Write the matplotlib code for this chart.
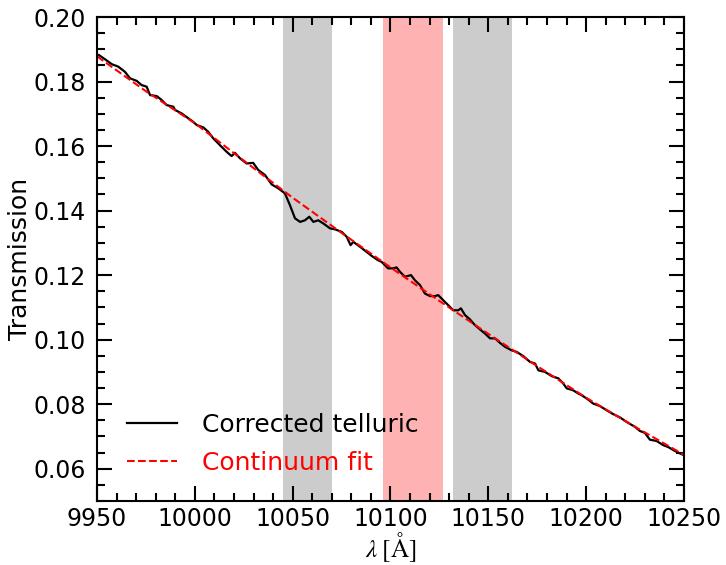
import matplotlib
matplotlib.use("Agg")
import matplotlib.pyplot as plt
from matplotlib.ticker import MultipleLocator

# Corrected telluric (black line)
wave = [9951.0, 9954.1, 9957.5, 9960.9, 9964.3, 9966.9, 9970.3, 9972.8, 9975.4, 9977.1,
        9980.5, 9983.0, 9985.6, 9989.0, 9989.9, 9993.3, 9996.7, 9999.2, 10001.0, 10004.3,
        10006.9, 10009.4, 10012.8, 10016.3, 10018.8, 10020.5, 10023.1, 10026.5, 10029.8, 10032.4,
        10035.9, 10039.3, 10042.7, 10046.1, 10048.6, 10051.2, 10053.8, 10056.3, 10058.5, 10060.6,
        10063.1, 10065.7, 10069.1, 10071.6, 10075.1, 10077.6, 10079.6, 10081.0, 10084.4, 10087.8,
        10090.3, 10093.7, 10095.5, 10098.8, 10101.4, 10103.1, 10104.9, 10107.4, 10110.5, 10112.5,
        10115.1, 10117.6, 10120.2, 10122.7, 10124.4, 10127.0, 10129.5, 10132.1, 10134.6, 10136.0,
        10138.1, 10140.6, 10143.0, 10145.7, 10148.3, 10150.9, 10153.4, 10156.0, 10158.5, 10161.9,
        10164.5, 10167.9, 10171.3, 10173.9, 10175.6, 10179.0, 10182.4, 10185.8, 10188.3, 10190.1,
        10193.4, 10196.0, 10197.7, 10201.1, 10203.6, 10207.1, 10210.5, 10213.9, 10217.3, 10220.7,
        10224.9, 10227.5, 10230.0, 10232.6, 10236.0, 10239.4, 10242.0, 10245.4, 10248.8, 10250.0]
trans = [0.1882, 0.1869, 0.1854, 0.1846, 0.1830, 0.1810, 0.1802, 0.1789, 0.1784, 0.1758,
         0.1755, 0.1743, 0.1727, 0.1722, 0.1712, 0.1701, 0.1686, 0.1675, 0.1665, 0.1658,
         0.1644, 0.1624, 0.1603, 0.1582, 0.1569, 0.1579, 0.1562, 0.1546, 0.1548, 0.1526,
         0.1510, 0.1481, 0.1469, 0.1453, 0.1417, 0.1376, 0.1365, 0.1370, 0.1381, 0.1365,
         0.1370, 0.1360, 0.1345, 0.1342, 0.1334, 0.1319, 0.1293, 0.1303, 0.1288, 0.1272,
         0.1260, 0.1246, 0.1241, 0.1221, 0.1221, 0.1224, 0.1210, 0.1195, 0.1200, 0.1184,
         0.1169, 0.1143, 0.1135, 0.1135, 0.1138, 0.1122, 0.1107, 0.1091, 0.1091, 0.1097,
         0.1076, 0.1063, 0.1046, 0.1032, 0.1019, 0.1004, 0.1004, 0.0990, 0.0978, 0.0967,
         0.0962, 0.0949, 0.0931, 0.0926, 0.0905, 0.0900, 0.0887, 0.0880, 0.0864, 0.0849,
         0.0843, 0.0833, 0.0828, 0.0814, 0.0802, 0.0794, 0.0781, 0.0769, 0.0759, 0.0745,
         0.0730, 0.0717, 0.0711, 0.0690, 0.0686, 0.0673, 0.0667, 0.0655, 0.0645, 0.0642]

# Continuum fit (red dashed)
fit_wave = [9950, 9975, 10000, 10025, 10050, 10075, 10100, 10125, 10150, 10175, 10200, 10225, 10250]
fit_trans = [0.1878, 0.1770, 0.1671, 0.1555, 0.1440, 0.1331, 0.1224, 0.1120, 0.1018, 0.0918, 0.0820, 0.0730, 0.0643]

# Shaded regions
gray_regions = [(10045, 10070), (10132, 10162)]
red_regions = [(10096, 10127)]

labels = ["Corrected telluric", "Continuum fit"]

fig = plt.figure(figsize=(7.26, 5.65), dpi=100)
ax = fig.add_axes([0.1336, 0.1133, 0.8085, 0.8566])

for a, b in gray_regions:
    ax.axvspan(a, b, color="k", alpha=0.2, lw=0)
for a, b in red_regions:
    ax.axvspan(a, b, color="red", alpha=0.3, lw=0)

ax.plot(wave, trans, color="black", lw=1.6, label=labels[0])
ax.plot(fit_wave, fit_trans, color="red", lw=1.5, ls="--", label=labels[1])

ax.set_xlim(9950, 10250)
ax.set_ylim(0.05, 0.20)
ax.xaxis.set_major_locator(MultipleLocator(50))
ax.xaxis.set_minor_locator(MultipleLocator(10))
ax.yaxis.set_major_locator(MultipleLocator(0.02))
ax.yaxis.set_minor_locator(MultipleLocator(0.005))
ax.yaxis.set_major_formatter(plt.FormatStrFormatter("%.2f"))
ax.tick_params(which="both", direction="in", top=True, right=True, labelsize=17)
ax.tick_params(axis="x", pad=4)
ax.tick_params(axis="y", pad=8)
ax.tick_params(which="major", length=11, width=1.5)
ax.tick_params(which="minor", length=5.5, width=1.5)
for s in ax.spines.values():
    s.set_linewidth(1.5)

ax.set_ylabel("Transmission", fontsize=18, labelpad=1)
ax.set_xlabel(r"$\lambda\;[\mathrm{\AA}]$", fontsize=18, math_fontfamily="stix", labelpad=0)

leg = ax.legend(loc="lower left", frameon=False, fontsize=18, handlelength=2.0,
                handletextpad=1.0, labelspacing=0.55, bbox_to_anchor=(0.013, 0.008))
leg.get_texts()[1].set_color("red")

fig.savefig("out.png", dpi=100)
